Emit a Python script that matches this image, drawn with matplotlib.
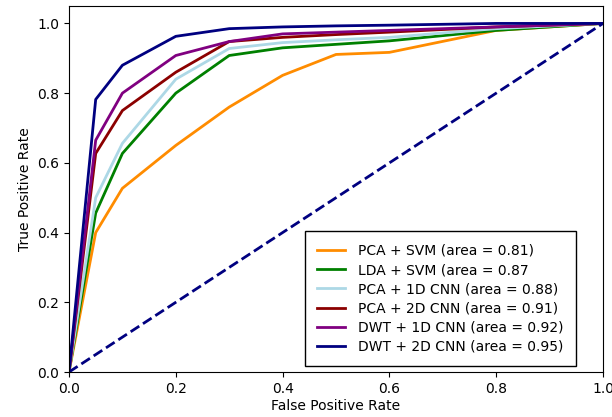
import numpy as np
import matplotlib.pyplot as plt

# ROC points
FPR = [0.0, 0.05, 0.1, 0.2, 0.3, 0.4, 0.5, 0.6, 0.8, 1.0]

TPR_PCA_SVM   = [0.0, 0.40, 0.527, 0.65, 0.76, 0.851, 0.911, 0.917, 0.98, 1.0]
TPR_LDA_SVM   = [0.0, 0.456, 0.627, 0.80, 0.908, 0.93, 0.94, 0.95, 0.98, 1.0]
TPR_PCA_1DCNN = [0.0, 0.50, 0.656, 0.84, 0.928, 0.945, 0.953, 0.96, 0.985, 1.0]
TPR_PCA_2DCNN = [0.0, 0.627, 0.75, 0.86, 0.948, 0.96, 0.968, 0.975, 0.99, 1.0]
TPR_DWT_1DCNN = [0.0, 0.665, 0.80, 0.908, 0.948, 0.97, 0.975, 0.98, 0.99, 1.0]
TPR_DWT_2DCNN = [0.0, 0.782, 0.88, 0.963, 0.985, 0.99, 0.993, 0.995, 1.0, 1.0]

LABELS = [
    'PCA + SVM (area = 0.81)',
    'LDA + SVM (area = 0.87',
    'PCA + 1D CNN (area = 0.88)',
    'PCA + 2D CNN (area = 0.91)',
    'DWT + 1D CNN (area = 0.92)',
    'DWT + 2D CNN (area = 0.95)',
]
COLORS = ['darkorange', 'green', 'lightblue', 'darkred', 'purple', 'navy']
SERIES = [TPR_PCA_SVM, TPR_LDA_SVM, TPR_PCA_1DCNN,
          TPR_PCA_2DCNN, TPR_DWT_1DCNN, TPR_DWT_2DCNN]

fig = plt.figure(figsize=(6.12, 4.17), dpi=100)
ax = fig.add_axes([69 / 612, 45 / 417, 534 / 612, 366 / 417])

for tpr, color, label in zip(SERIES, COLORS, LABELS):
    ax.plot(FPR, tpr, color=color, lw=2, label=label)

ax.plot([0, 1], [0, 1], color='navy', lw=2, linestyle='--')

ax.set_xlim(0.0, 1.0)
ax.set_ylim(0.0, 1.05)
ax.set_xlabel('False Positive Rate', fontsize=10, labelpad=2)
ax.set_ylabel('True Positive Rate', fontsize=10)
ax.tick_params(labelsize=10)

leg = ax.legend(loc='lower right', fontsize=10, fancybox=False,
                edgecolor='black', framealpha=1, borderpad=0.9,
                labelspacing=0.37, handletextpad=0.9, borderaxespad=0,
                bbox_to_anchor=(0.949, 0.016))
leg.get_frame().set_linewidth(1.0)

fig.savefig('out.png', dpi=100)
